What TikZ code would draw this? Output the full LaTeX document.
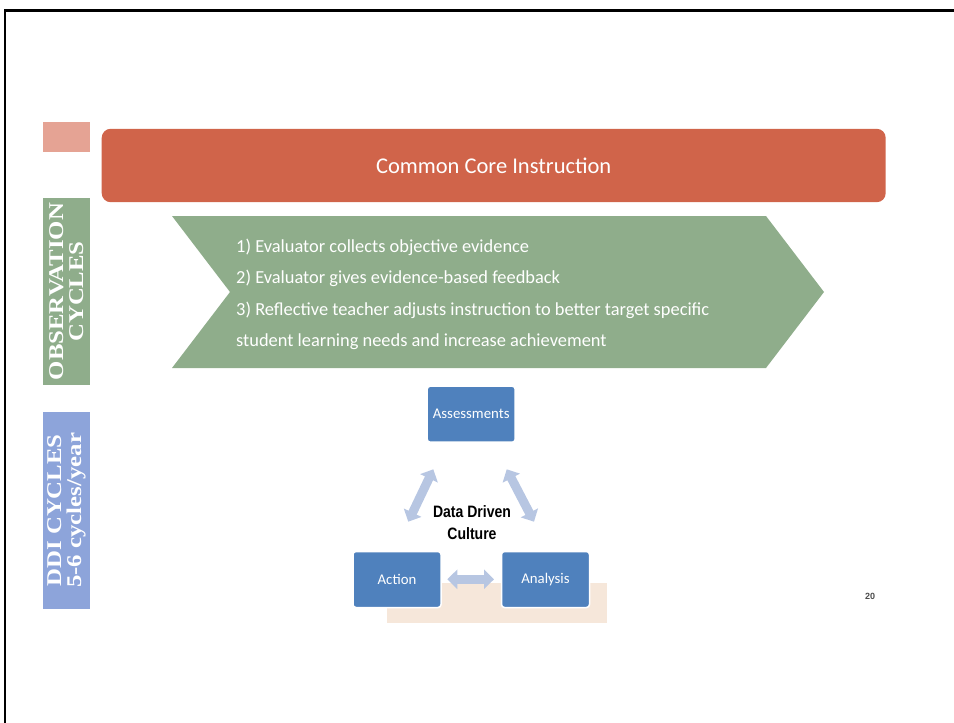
\documentclass[tikz,border=0pt]{standalone}
\usepackage{fontspec}
\setmainfont{Carlito}
\newfontfamily\timesf{Liberation Serif}
\newfontfamily\arialf{Liberation Sans}
\usetikzlibrary{arrows.meta}
\definecolor{barred}{HTML}{D0644A}
\definecolor{pinksq}{HTML}{E5A394}
\definecolor{sage}{HTML}{8FAD8B}
\definecolor{lblue}{HTML}{8DA4DA}
\definecolor{boxblue}{HTML}{4F81BD}
\definecolor{arrblue}{HTML}{B7C6E2}
\definecolor{beige}{HTML}{F6E7DA}
\tikzset{
  lbl/.style={rotate=90, inner sep=0pt, align=center, text=white,
    font=\timesf\bfseries\fontsize{21}{20}\selectfont},
  ddbox/.style={rectangle, rounded corners=3pt, fill=boxblue, draw=white,
    line width=1.5pt, minimum width=88pt, minimum height=56pt, text=white,
    font=\fontsize{14.8}{16}\selectfont},
  dblarrow/.style={draw=arrblue, line width=9pt,
    {Triangle[width=19pt,length=10pt]}-{Triangle[width=19pt,length=10pt]}}
}
\begin{document}
\begin{tikzpicture}[x=1pt,y=-1pt]
\useasboundingbox (0,0) rectangle (954,723);
% frame
\draw[line width=2.5pt] (954,10.5) -- (5,10.5) -- (5,723);
% left markers
\fill[pinksq] (42.7,121.7) rectangle (90,151.7);
\node[lbl, fill=sage, minimum width=187pt, minimum height=47.3pt] (obs) at (66.35,291.5)
  {\scalebox{1.18}[1]{OBSERVATION}\\\scalebox{1.18}[1]{CYCLES}};
\node[lbl, fill=lblue, minimum width=197.3pt, minimum height=47.3pt] (ddi) at (66.35,510.35)
  {\scalebox{1.18}[1]{DDI CYCLES}\\\scalebox{1.18}[1]{5-6 cycles/year}};
% red bar
\node[rectangle, rounded corners=9pt, fill=barred, minimum width=784pt, minimum height=73.4pt,
  text=white, font=\fontsize{22.5}{26}\selectfont] (cci) at (493.7,165.5) {Common Core Instruction};
% chevron
\fill[sage] (172,216) -- (766,216) -- (824,292) -- (766,368) -- (172,368) -- (230,292) -- cycle;
\node[anchor=west, align=left, text=white, inner sep=0pt,
  font=\fontsize{18.4}{31.5}\selectfont] (obstext) at (236,294.5)
  {1) Evaluator collects objective evidence\\
   2) Evaluator gives evidence-based feedback\\
   3) Reflective teacher adjusts instruction to better target specific\\
   student learning needs and increase achievement};
% beige base
\fill[beige] (387.3,582.7) rectangle (606.7,622.7);
% boxes
\node[ddbox] (assess) at (471.2,414.2) {Assessments};
\node[ddbox] (action) at (397,579.5) {Action};
\node[ddbox] (analysis) at (545.5,579.5) {Analysis};
% arrows
\coordinate (la1) at (433.3,469.3);
\coordinate (la2) at (408.3,521.7);
\coordinate (ra1) at (506.7,469.3);
\coordinate (ra2) at (534,521.7);
\coordinate (ba1) at (447.3,579.3);
\coordinate (ba2) at (494,579.3);
\draw[dblarrow] (la1) -- (la2);
\draw[dblarrow] (ra1) -- (ra2);
\draw[dblarrow] (ba1) -- (ba2);
% center text
\node[align=center, inner sep=0pt, font=\arialf\bfseries\fontsize{16.5}{22.3}\selectfont] (ddc) at (472,522.5)
  {\scalebox{0.85}[1]{Data Driven}\\\scalebox{0.85}[1]{Culture}};
% page number
\node[font=\arialf\bfseries\fontsize{9}{10}\selectfont, text=black!70] (pnum) at (870,596) {20};
\end{tikzpicture}
\end{document}
